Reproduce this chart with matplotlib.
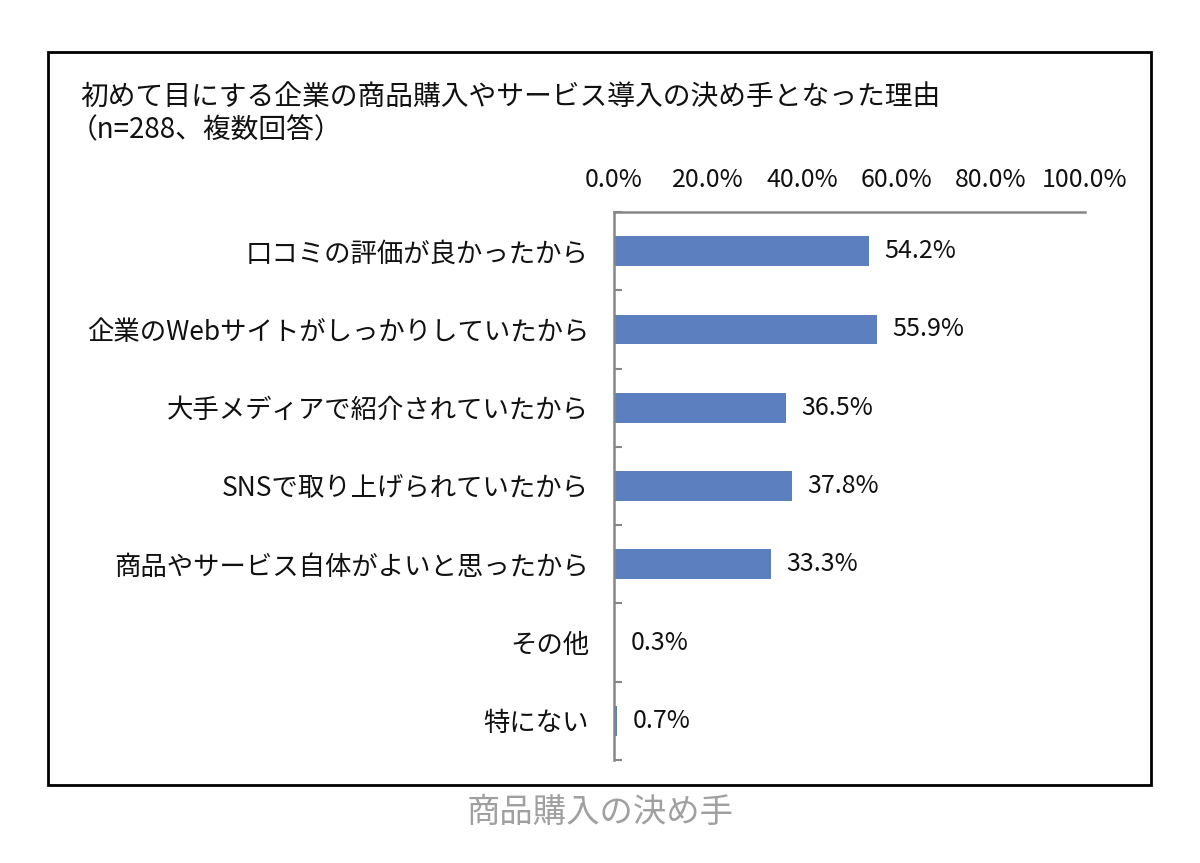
import numpy as np
import matplotlib
matplotlib.use('Agg')
import matplotlib.pyplot as plt
from matplotlib.patches import Rectangle

plt.rcParams['font.family'] = ['Noto Sans CJK JP', 'DejaVu Sans']

# data
categories = ['口コミの評価が良かったから', '企業のWebサイトがしっかりしていたから',
              '大手メディアで紹介されていたから', 'SNSで取り上げられていたから',
              '商品やサービス自体がよいと思ったから', 'その他', '特にない']
values = [54.2, 55.9, 36.5, 37.8, 33.3, 0.3, 0.7]
x_ticks = [0, 20, 40, 60, 80, 100]
x_tick_labels = ['0.0%', '20.0%', '40.0%', '60.0%', '80.0%', '100.0%']

title1 = '初めて目にする企業の商品購入やサービス導入の決め手となった理由'
title2 = '（n=288、複数回答）'
caption = '商品購入の決め手'

bar_color = '#5b7fbf'
axis_color = '#868686'

fig = plt.figure(figsize=(12, 8.63), dpi=100)
ax = fig.add_axes([614/1200, 1-760/863, (1085-614)/1200, (760-212)/863])

y = np.arange(len(categories))
ax.barh(y, values, height=0.38, color=bar_color)

for yi, v in zip(y, values):
    ax.annotate(f'{v:.1f}%', (v, yi), xytext=(11, 0), textcoords='offset points',
                va='center', ha='left', fontsize=18, color='#111111')

ax.set_xlim(0, 100)
ax.set_ylim(len(categories) - 0.5, -0.5)

ax.xaxis.tick_top()
ax.set_xticks(x_ticks)
ax.set_xticklabels(x_tick_labels, fontsize=18, color='#111111')
ax.tick_params(axis='x', length=0, pad=14)

ax.set_yticks(y)
ax.set_yticklabels(categories, fontsize=19, color='#111111')
ax.tick_params(axis='y', which='major', length=0, pad=18)
ax.set_yticks(np.arange(-0.5, len(categories), 1), minor=True)
ax.tick_params(axis='y', which='minor', direction='in', length=6, width=1.5, color=axis_color)

for side in ['right', 'bottom']:
    ax.spines[side].set_visible(False)
for side in ['top', 'left']:
    ax.spines[side].set_color(axis_color)
    ax.spines[side].set_linewidth(1.8)

# titles and caption
fig.text(80/1200, 1-97/863, title1, fontsize=20, va='center', ha='left', color='#111111')
fig.text(70/1200, 1-130/863, title2, fontsize=20, va='center', ha='left', color='#111111')
fig.text(600/1200, 1-812/863, caption, fontsize=24, va='center', ha='center', color='#a0a0a0')

# border around the chart
fig.patches.append(Rectangle((48/1200, 1-785/863), (1151-48)/1200, (785-52)/863,
                             transform=fig.transFigure, fill=False,
                             edgecolor='black', linewidth=2))

fig.savefig('out.png', dpi=100, facecolor='white')
